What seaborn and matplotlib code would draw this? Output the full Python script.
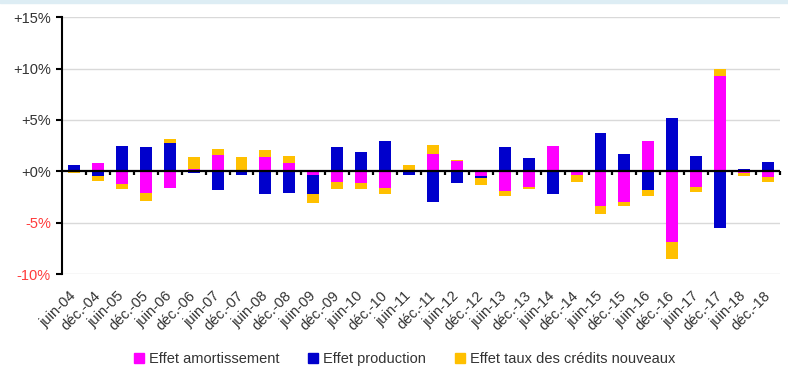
import numpy as np
import pandas as pd
import seaborn as sns
import matplotlib
matplotlib.use("Agg")
import matplotlib.pyplot as plt
from matplotlib.lines import Line2D
from matplotlib.patches import Rectangle
from matplotlib.markers import TICKDOWN

# Half-year periods
periods = ["juin-04", "déc.-04", "juin-05", "déc.-05", "juin-06", "déc.-06",
           "juin-07", "déc.-07", "juin-08", "déc.-08", "juin-09", "déc.-09",
           "juin-10", "déc.-10", "juin-11", "déc.-11", "juin-12", "déc.-12",
           "juin-13", "déc.-13", "juin-14", "déc.-14", "juin-15", "déc.-15",
           "juin-16", "déc.-16", "juin-17", "déc.-17", "juin-18", "déc.-18"]

# Contributions (in %) of each effect
effet_amortissement = [0.0, 0.8, -1.2, -2.15, -1.65, 0.2, 1.55, 0.0, 1.35, 0.8,
                       -0.35, -1.0, -1.15, -1.6, 0.0, 1.7, 1.05, -0.5, -1.9, -1.5,
                       2.5, -0.35, -3.4, -2.95, 2.95, -6.85, -1.5, 9.25, -0.15, -0.6]
effet_production = [0.6, -0.5, 2.45, 2.35, 2.75, -0.15, -1.85, -0.35, -2.2, -2.1,
                    -1.9, 2.4, 1.9, 2.95, -0.4, -2.95, -1.15, -0.15, 2.35, 1.25,
                    -2.2, 0.0, 3.75, 1.7, -1.8, 5.2, 1.45, -5.5, 0.2, 0.95]
effet_taux = [-0.2, -0.4, -0.55, -0.7, 0.35, 1.2, 0.6, 1.4, 0.7, 0.7,
              -0.8, -0.7, -0.6, -0.6, 0.6, 0.85, 0.1, -0.65, -0.5, -0.25,
              0.0, -0.7, -0.8, -0.4, -0.6, -1.7, -0.5, 0.75, -0.3, -0.4]

series_names = ["Effet amortissement", "Effet production",
                "Effet taux des crédits nouveaux"]
series_colors = ["#FF00FF", "#0000CC", "#FFC000"]

y_ticks = [-10, -5, 0, 5, 10, 15]
y_tick_labels = ["-10%", "-5%", "+0%", "+5%", "+10%", "+15%"]

sns.set_theme(style="white")
plt.rcParams["font.family"] = ["Liberation Sans", "DejaVu Sans"]

fig = plt.figure(figsize=(7.88, 3.76), dpi=100)
ax = fig.add_axes([62 / 788, (376 - 274) / 376, (780 - 62) / 788, (274 - 17.3) / 376])

# Stack positive and negative parts separately, drawing cumulative layers
# from the outermost inward so each segment shows its own colour.
values = np.array([effet_amortissement, effet_production, effet_taux])
pos = np.clip(values, 0, None).cumsum(axis=0)
neg = np.clip(values, None, 0).cumsum(axis=0)
for cum in (pos, neg):
    for k in range(len(series_names) - 1, -1, -1):
        sns.barplot(x=periods, y=cum[k], order=periods, color=series_colors[k],
                    saturation=1, width=0.5, linewidth=0, errorbar=None, ax=ax)

ax.set_xlim(-0.5, len(periods) - 0.5)
ax.set_ylim(-10, 15)

# Grid lines
for v in y_ticks:
    if v != 0:
        ax.axhline(v, color="#D9D9D9", lw=1.0, zorder=0)
ax.axhline(0, color="black", lw=1.6, zorder=3)
# Small category ticks along the zero line
ax.plot(np.arange(len(periods)) + 0.5, np.zeros(len(periods)), ls="none",
        marker=TICKDOWN, markersize=3, markeredgewidth=1.6, color="black",
        zorder=3, clip_on=False)

for side in ("top", "right", "bottom"):
    ax.spines[side].set_visible(False)
ax.spines["left"].set_color("black")
ax.spines["left"].set_linewidth(1.5)

ax.set_yticks(y_ticks)
ax.set_yticklabels(y_tick_labels, fontsize=10.5)
for lab, v in zip(ax.get_yticklabels(), y_ticks):
    lab.set_color("#FF3B3B" if v < 0 else "#333333")
ax.tick_params(axis="y", direction="out", length=4, width=1.5, color="black",
               pad=4, left=True)

ax.set_xticks(range(len(periods)))
ax.set_xticklabels(periods, rotation=45, ha="right", va="center",
                   rotation_mode="anchor", fontsize=10.5, color="#333333")
ax.tick_params(axis="x", length=0, pad=14)
ax.set_xlabel("")
ax.set_ylabel("")

handles = [Line2D([], [], ls="none", marker="s", markersize=7,
                  markerfacecolor=c, markeredgecolor=c) for c in series_colors]
fig.legend(handles, series_names, loc="center", bbox_to_anchor=(0.513, 0.045),
           ncol=3, frameon=False, fontsize=10.5, handlelength=0.8,
           handletextpad=0.3, columnspacing=1.9, labelcolor="#333333")

# Thin light band across the top edge
fig.patches.append(Rectangle((0, 1 - 3 / 376), 1, 3 / 376, transform=fig.transFigure,
                             color="#DDEDF4", zorder=0))

fig.savefig("out.png", dpi=100)
